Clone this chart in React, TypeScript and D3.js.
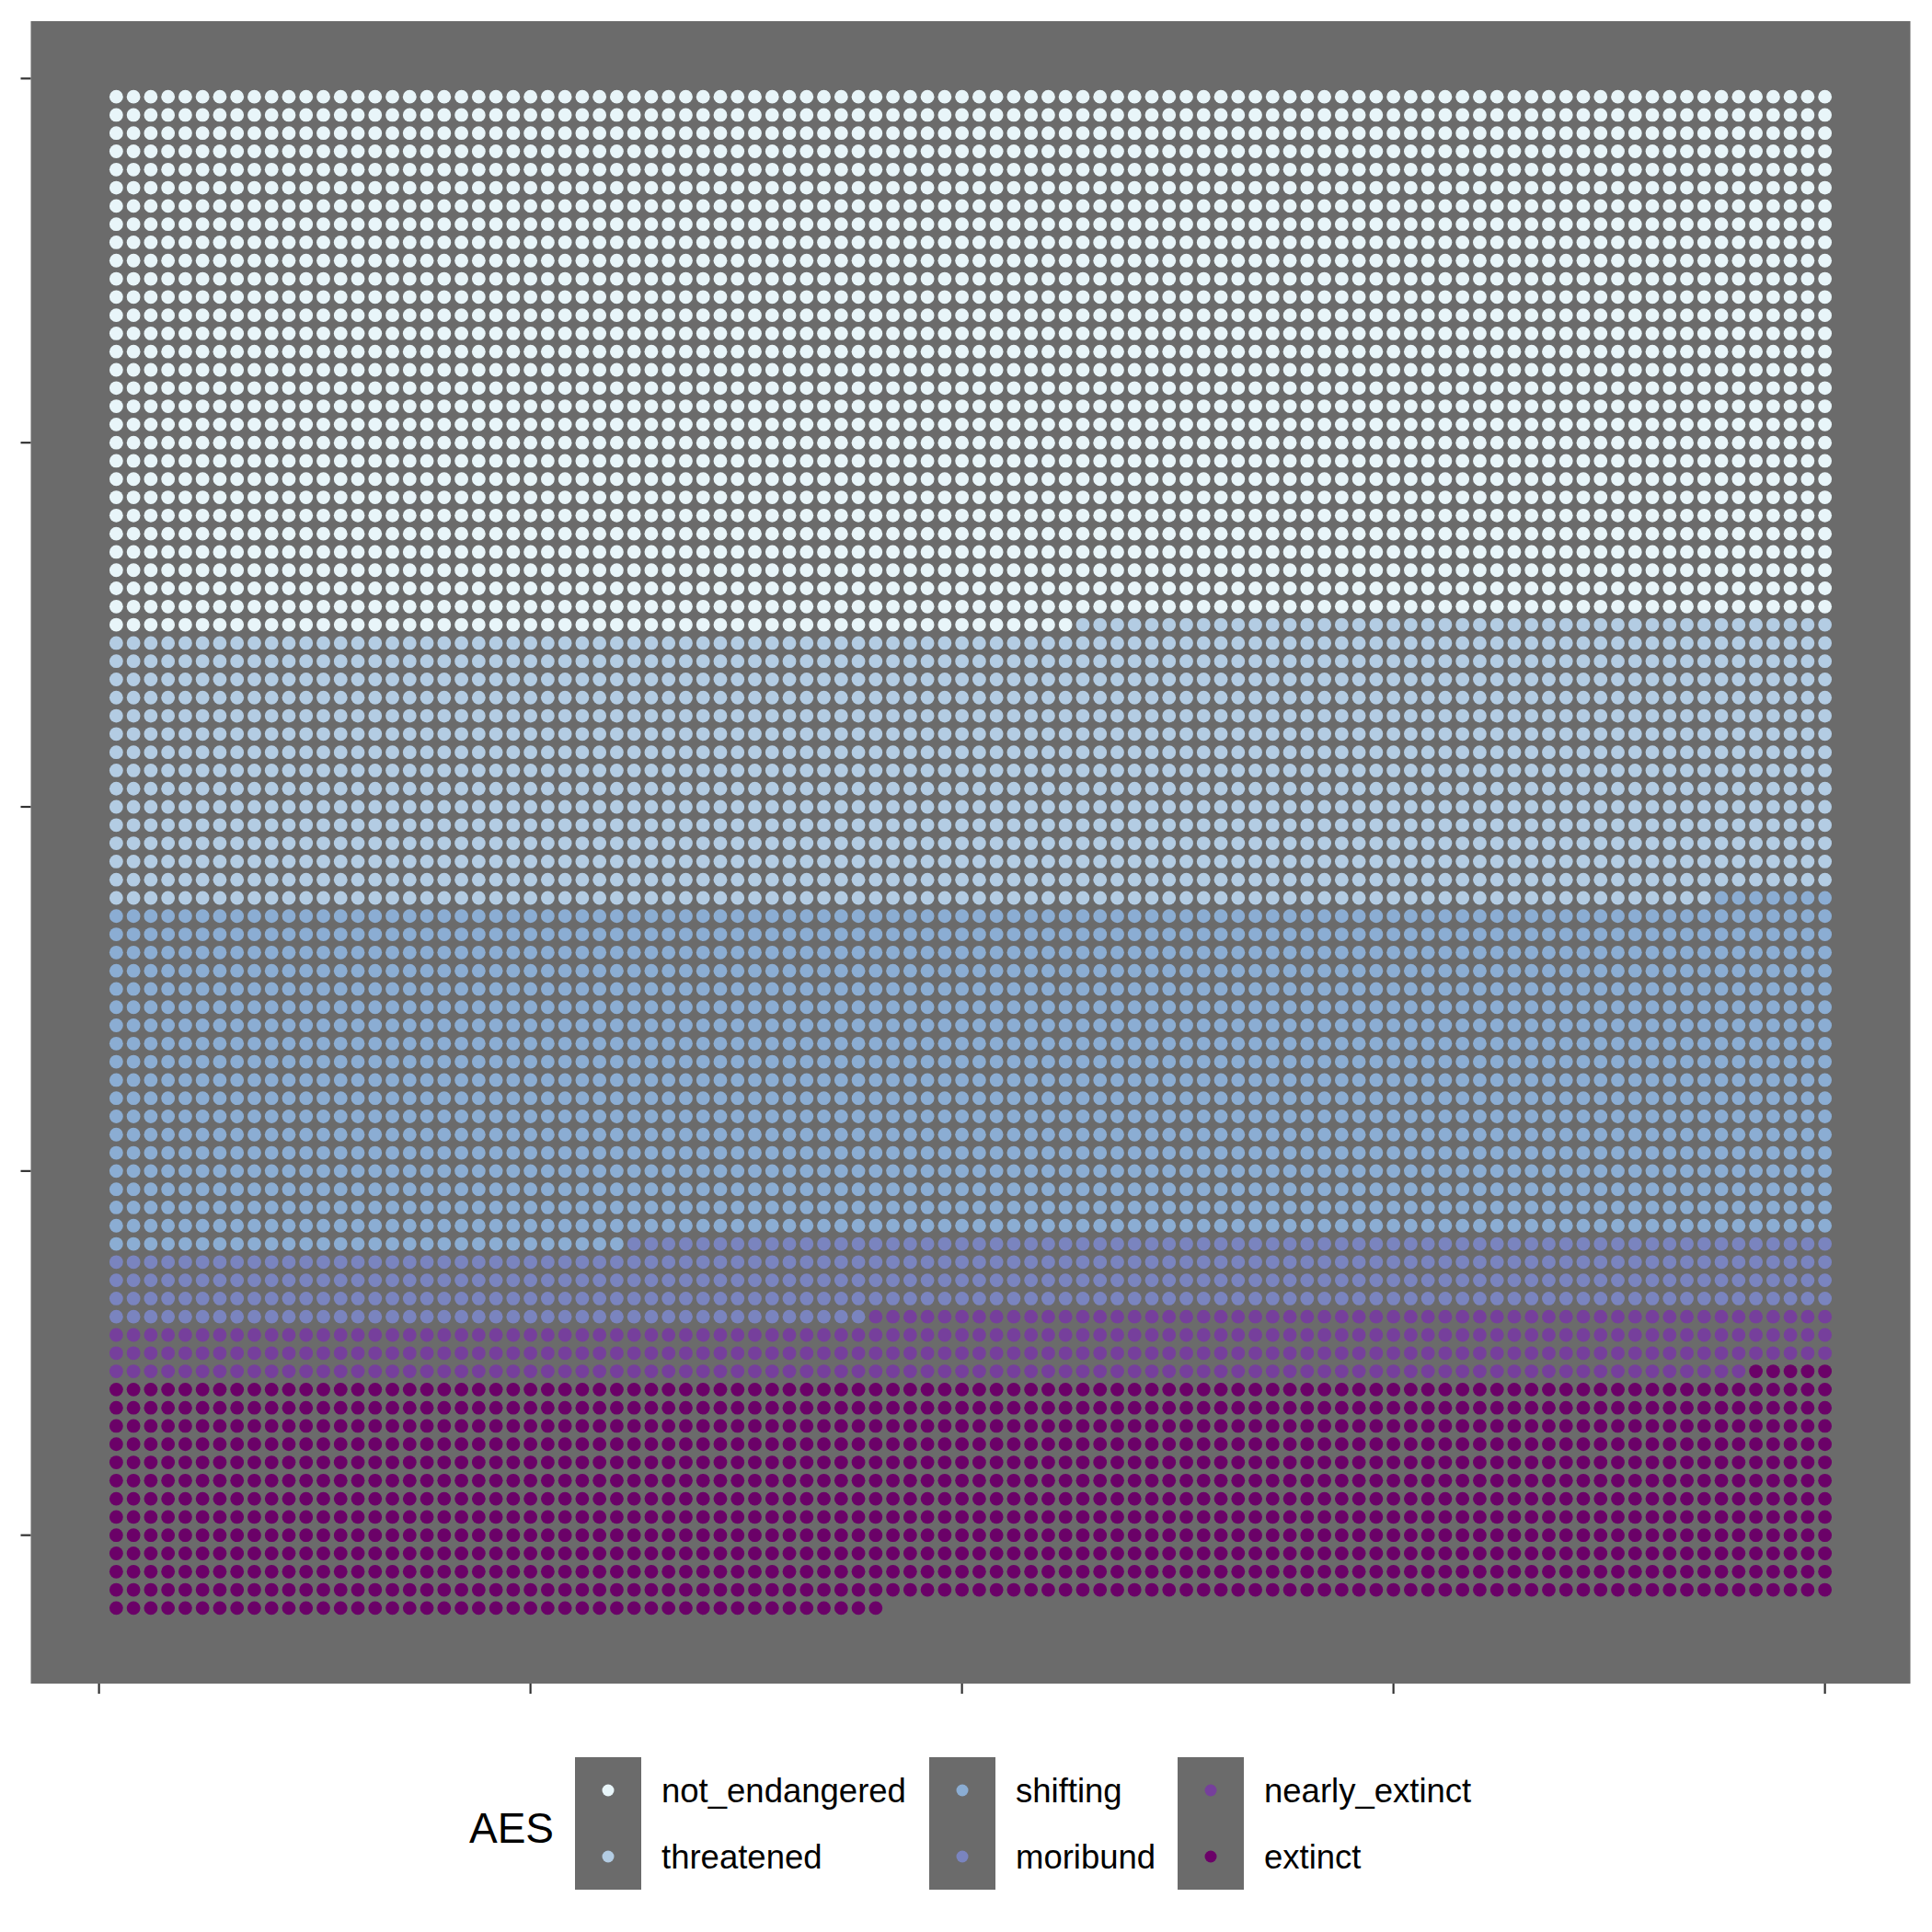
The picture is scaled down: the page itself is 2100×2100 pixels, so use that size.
import * as d3 from 'd3';

// AES categories, in fill order (top-left to bottom-right)
const categories = ['not_endangered', 'threatened', 'shifting', 'moribund', 'nearly_extinct', 'extinct'];
const counts = [2956, 1537, 1837, 414, 351, 1250];
const palette = ['#e8f5f9', '#b3cce3', '#8badd3', '#7a84bf', '#763f9c', '#6b0168'];

const nCols = 100;
const xTicks = [0, 25, 50, 75, 100];
const yTicks = [0, 20, 40, 60, 80];

const W = 2100;
const H = 2100;
const panel = { left: 33.5, right: 2076.5, top: 23, bottom: 1830 };

export default function App() {
  // expand counts into waffle cells, row by row
  const cells: { col: number; row: number; cat: string }[] = [];
  let i = 0;
  categories.forEach((cat, k) => {
    for (let j = 0; j < counts[k]; j++, i++) {
      cells.push({ col: (i % nCols) + 1, row: Math.floor(i / nCols) + 1, cat });
    }
  });
  const nRows = Math.ceil(i / nCols);

  // ggplot-like 5% expansion
  const xExp = (nCols - 1) * 0.05;
  const yExp = (nRows - 1) * 0.05;
  const x = d3.scaleLinear().domain([1 - xExp, nCols + xExp]).range([panel.left, panel.right]);
  const y = d3.scaleLinear().domain([1 - yExp, nRows + yExp]).range([panel.top, panel.bottom]);
  const color = d3.scaleOrdinal<string, string>().domain(categories).range(palette);

  const keyX = [625, 1010, 1280];
  const keyTop = 1910;
  const keySize = 72;

  return (
    <svg width={W} height={H} style={{ position: 'absolute', left: 0, top: 0, background: '#fff' }}
      fontFamily="'Liberation Sans', Arial, Helvetica, sans-serif">
      <rect x={panel.left} y={panel.top} width={panel.right - panel.left} height={panel.bottom - panel.top} fill="#6b6b6b" />
      <g>
        {cells.map((d, k) => (
          <circle key={k} cx={x(d.col)} cy={y(d.row)} r={7.4} fill={color(d.cat)} />
        ))}
      </g>
      <g stroke="#333" strokeWidth={2.2}>
        {yTicks.map((t) => (
          <line key={'y' + t} x1={panel.left - 11} x2={panel.left} y1={y(t)} y2={y(t)} />
        ))}
        {xTicks.map((t) => (
          <line key={'x' + t} x1={x(t)} x2={x(t)} y1={panel.bottom} y2={panel.bottom + 11} />
        ))}
      </g>
      <text x={510} y={1987} fontSize={46} dominantBaseline="central">AES</text>
      {keyX.map((kx, c) => (
        <g key={'col' + c}>
          <rect x={kx} y={keyTop} width={keySize} height={keySize * 2} fill="#6b6b6b" />
          {[0, 1].map((r) => {
            const cat = categories[c * 2 + r];
            const cy = keyTop + keySize * r + keySize / 2;
            return (
              <g key={cat}>
                <circle cx={kx + keySize / 2} cy={cy} r={6.5} fill={color(cat)} />
                <text x={kx + keySize + 22} y={cy} fontSize={36.5} dominantBaseline="central">{cat}</text>
              </g>
            );
          })}
        </g>
      ))}
    </svg>
  );
}
